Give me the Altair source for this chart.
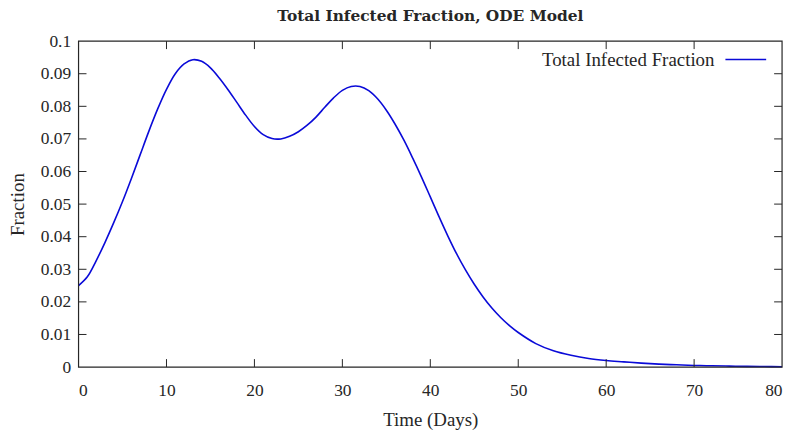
import altair as alt
import pandas as pd

# ---- data ----
days = [0, 1, 2, 3, 4, 5, 6, 7, 8, 9, 10, 11, 12, 13, 14, 15, 16, 17, 18, 19,
        20, 21, 22, 23, 24, 25, 26, 27, 28, 29, 30, 31, 32, 33, 34, 35, 36, 37,
        38, 39, 40, 41, 42, 43, 44, 45, 46, 47, 48, 49, 50, 52, 54, 56, 58, 60,
        62, 64, 66, 68, 70, 72, 74, 76, 78, 80]
fraction = [0.0250, 0.0277, 0.0326, 0.0382, 0.0443, 0.0508, 0.0578, 0.0651,
            0.0724, 0.0792, 0.0852, 0.0900, 0.0930, 0.0943, 0.0938, 0.0918,
            0.0887, 0.0851, 0.0812, 0.0773, 0.0738, 0.0713, 0.0701, 0.0700,
            0.0708, 0.0722, 0.0742, 0.0767, 0.0797, 0.0826, 0.0849, 0.0861,
            0.0861, 0.0848, 0.0823, 0.0788, 0.0745, 0.0696, 0.0641, 0.0583,
            0.0522, 0.0461, 0.0402, 0.0347, 0.0298, 0.0254, 0.0215, 0.0181,
            0.0152, 0.0127, 0.0106, 0.0072, 0.0050, 0.0036, 0.0026, 0.0020,
            0.0016, 0.0012, 0.0009, 0.0007, 0.0005, 0.0004, 0.0003, 0.0002,
            0.00015, 0.0001]
series_name = ["Total Infected Fraction"]
chart_title = "Total Infected Fraction, ODE Model"
x_title = "Time (Days)"
y_title = "Fraction"
x_tick_values = [0, 10, 20, 30, 40, 50, 60, 70, 80]
y_tick_values = [0, 0.01, 0.02, 0.03, 0.04, 0.05, 0.06, 0.07, 0.08, 0.09, 0.1]
x_inner_ticks = [10, 20, 30, 40, 50, 60, 70]
y_inner_ticks = [0.01, 0.02, 0.03, 0.04, 0.05, 0.06, 0.07, 0.08, 0.09]

# ---- styling ----
W, H = 708, 328
BLUE = "#0a0ad8"
INK = "#262626"
FONT = "Liberation Serif"
FS_LAB = 17.5
FS_TXT = 19
TICK = 8

xs = alt.Scale(domain=[0, 80], nice=False, zero=False)
ys = alt.Scale(domain=[0, 0.1], nice=False, zero=False)

df = pd.DataFrame({"day": days, "fraction": fraction})
leg = pd.DataFrame({"name": series_name})
xt = pd.DataFrame({"day": x_inner_ticks})
yt = pd.DataFrame({"fraction": y_inner_ticks})

axis_style = dict(
    ticks=False, tickSize=0, domain=False, grid=False,
    labelFont=FONT, labelFontSize=FS_LAB, labelColor=INK,
    titleFont=FONT, titleFontSize=FS_TXT, titleColor=INK,
    titleFontWeight="normal",
)
x_axis = alt.Axis(title=x_title, values=x_tick_values, format="d",
                  labelPadding=15, titlePadding=11, **axis_style)
y_axis = alt.Axis(title=y_title, values=y_tick_values, format=".2~f",
                  labelPadding=8, titlePadding=13, **axis_style)

line = alt.Chart(df).mark_line(
    color=BLUE, strokeWidth=1.6, interpolate="catmull-rom"
).encode(
    x=alt.X("day:Q", scale=xs, axis=x_axis),
    y=alt.Y("fraction:Q", scale=ys, axis=y_axis),
)

bottom_ticks = alt.Chart(xt).mark_rule(color=INK, strokeWidth=1).encode(
    x=alt.X("day:Q", scale=xs, axis=x_axis),
    y=alt.value(H), y2=alt.value(H - TICK))
top_ticks = alt.Chart(xt).mark_rule(color=INK, strokeWidth=1).encode(
    x=alt.X("day:Q", scale=xs, axis=x_axis),
    y=alt.value(0), y2=alt.value(TICK))
left_ticks = alt.Chart(yt).mark_rule(color=INK, strokeWidth=1).encode(
    y=alt.Y("fraction:Q", scale=ys, axis=y_axis),
    x=alt.value(0), x2=alt.value(TICK))
right_ticks = alt.Chart(yt).mark_rule(color=INK, strokeWidth=1).encode(
    y=alt.Y("fraction:Q", scale=ys, axis=y_axis),
    x=alt.value(W), x2=alt.value(W - TICK))

frame = alt.Chart(leg).mark_rect(
    fill=None, fillOpacity=0, stroke=INK, strokeWidth=1.2
).encode(x=alt.value(0), x2=alt.value(W), y=alt.value(0), y2=alt.value(H))

legend_text = alt.Chart(leg).mark_text(
    align="right", baseline="middle", font=FONT, fontSize=FS_TXT, color=INK
).encode(text="name:N", x=alt.value(640), y=alt.value(19))
legend_line = alt.Chart(leg).mark_rule(color=BLUE, strokeWidth=1.6).encode(
    x=alt.value(651), x2=alt.value(692), y=alt.value(18.5),
    detail="name:N")

chart = alt.layer(
    line, bottom_ticks, top_ticks, left_ticks, right_ticks, frame,
    legend_text, legend_line
).properties(
    width=W, height=H,
    title=alt.TitleParams(chart_title, font="DejaVu Serif", fontSize=15.5,
                          fontWeight="bold", color=INK, anchor="middle",
                          frame="group", offset=8),
    autosize=alt.AutoSizeParams(type="none"),
    padding={"left": 71, "top": 32, "right": 10, "bottom": 64},
    background="white",
).configure_view(
    strokeWidth=0
)

chart.save("out.html", embed_options={"renderer": "svg", "actions": False})
